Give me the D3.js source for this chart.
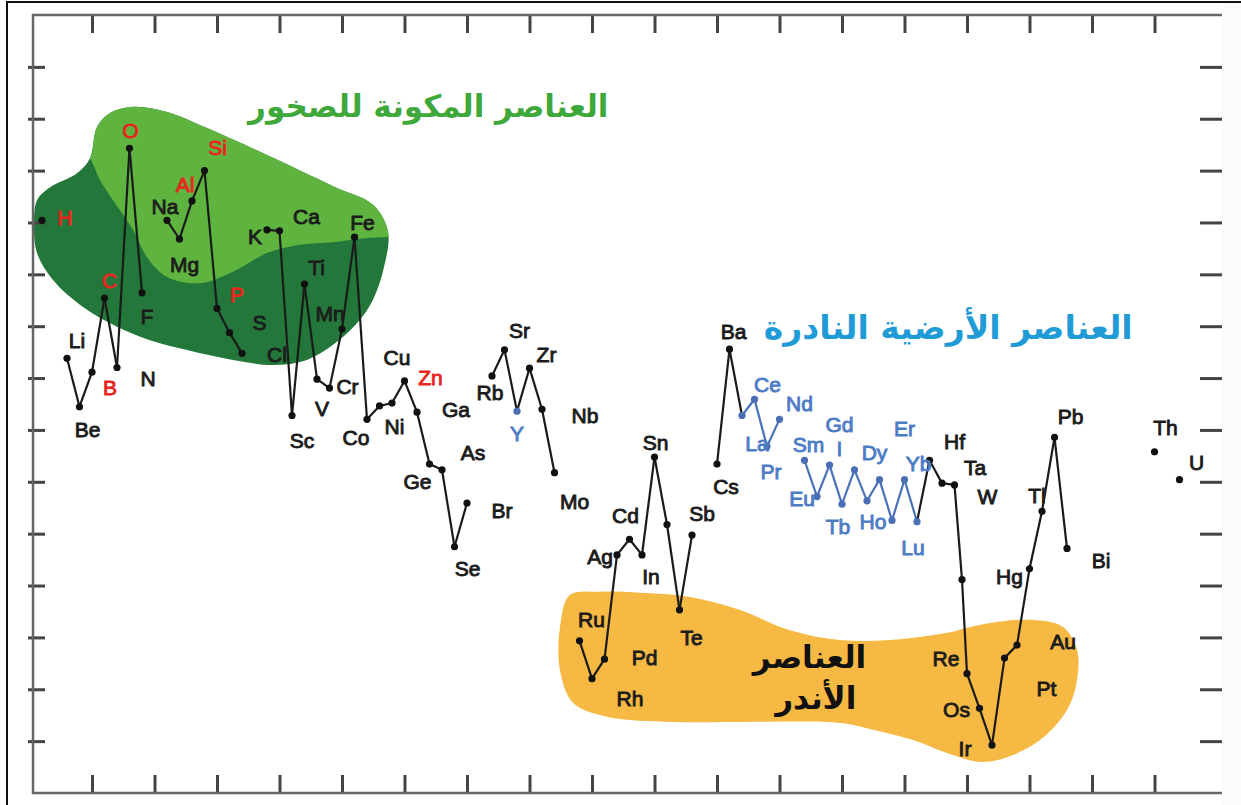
<!DOCTYPE html>
<html>
<head>
<meta charset="utf-8">
<script src="https://cdn.jsdelivr.net/npm/d3@7"></script>
<style>
  body { margin: 0; background: #fff; }
  svg { display: block; font-family: "Liberation Sans", Arial, sans-serif; }
</style>
</head>
<body>
<svg width="1241" height="805"></svg>
<script>
// element symbols, atomic numbers and crust abundance (atoms per 10^6 Si)
const symbols = ['H','Li','Be','B','C','N','O','F','Na','Mg','Al','Si','P','S','Cl','K','Ca','Sc','Ti','V','Cr','Mn','Fe','Co','Ni','Cu','Zn','Ga','Ge','As','Se','Br',
  'Rb','Sr','Y','Zr','Nb','Mo','Ru','Rh','Pd','Ag','Cd','In','Sn','Sb','Te','I','Cs','Ba','La','Ce','Pr','Nd','Sm','Eu','Gd','Tb','Dy','Ho','Er','Tm','Yb','Lu',
  'Hf','Ta','W','','Re','Os','Ir','Pt','Au','Hg','Tl','Pb','Bi','Th','U'];
const atomicNumbers = [1,3,4,5,6,7,8,9,11,12,13,14,15,16,17,19,20,21,22,23,24,25,26,27,28,29,30,31,32,33,34,35,
  37,38,39,40,41,42,44,45,46,47,48,49,50,51,52,53,55,56,57,58,59,60,62,63,64,65,66,67,68,69,70,71,
  72,73,74,74.6,75,76,77,78,79,80,81,82,83,90,92];
const abundance = [1.1e5,240,28,130,3500,160,2.7e6,4400,1.1e5,4.8e4,2.6e5,1e6,2200,750,300,7.2e4,6.9e4,19,6500,95,64,880,5.2e4,16,29,33,88,22,2.2,1.7,0.056,0.39,
  110,350,23,155,25,1.5,8.6e-4,1.6e-4,3.8e-4,0.039,0.078,0.039,3.0,0.15,3.4e-3,0.094,2.2,360,19,39,4.8,16,2.6,0.52,2.1,0.37,1.7,0.43,1.1,0.18,1.1,0.17,
  2.6,0.94,0.87,0.013,2.0e-4,4.3e-5,8.4e-6,4.0e-4,7.1e-4,0.021,0.27,7.2,0.052,3.8,1.1];

const rareEarths = ['La','Ce','Pr','Nd','Sm','Eu','Gd','Tb','Dy','Ho','Er','Tm','Yb','Lu'];
const redLabels = ['H','B','C','O','Al','Si','P','Zn'];
const blueLabels = ['Y','La','Ce','Pr','Nd','Sm','I*','Gd','Dy','Er','Yb','Eu','Tb','Ho','Lu'];

// tick values
const xTicks = d3.range(5, 91, 5);
const yTicks = d3.range(-5, 9).map(e => Math.pow(10, e));

// shaded regions, [atomic number, log10 abundance]
const rockOutline = [[0.6,5.43],[1.64,5.68],[3.8,5.95],[4.84,6.24],[5.4,6.84],[6.44,7.11],[8.28,7.23],[11.0,7.13],[14.2,6.82],[19.0,6.30],
  [24.28,5.70],[27.48,5.34],[28.68,4.82],[28.36,4.14],[27.48,3.51],[26.28,3.08],[24.28,2.64],[22.2,2.35],[19.48,2.25],[16.28,2.35],
  [12.6,2.54],[9.64,2.73],[7.0,2.99],[4.28,3.37],[1.88,3.89],[0.6,4.41],[0.36,4.95]];
const rockMajor = [[4.52,6.40],[5.24,7.46],[11.24,7.55],[20.84,6.59],[29.64,5.43],[29.64,4.74],[28.6,4.72],[27.0,4.70],[24.28,4.62],[21.64,4.57],
  [19.0,4.41],[16.28,4.05],[13.64,3.83],[11.0,3.95],[9.4,4.33],[8.28,4.86],[6.68,5.43],[5.64,5.82],[5.0,6.17]];
const rarestOutline = [[43.24,-2.18],[45.64,-2.12],[48.84,-2.14],[52.84,-2.22],[56.84,-2.47],[60.84,-2.86],[64.84,-3.05],[68.84,-3.05],[73.4,-2.91],
  [76.04,-2.76],[80.04,-2.66],[82.68,-2.80],[83.8,-3.24],[83.8,-3.82],[83.0,-4.40],[80.84,-4.98],[78.2,-5.31],[76.04,-5.40],[73.4,-5.23],
  [70.68,-4.98],[67.48,-4.78],[64.84,-4.65],[56.84,-4.63],[51.48,-4.63],[46.2,-4.53],[43.48,-4.26],[42.44,-3.63],[42.44,-2.80]];

// label placement: [text, element, dx, dy]
const labels = [['H','H',23,-3],['Li','Li',10,-18],['Be','Be',8,23],['B','B',18,15],['C','C',5,-17],['N','N',31,11],['O','O',1,-18],['F','F',5,24],
  ['Na','Na',-2,-14],['Mg','Mg',5,26],['Al','Al',-7,-16],['Si','Si',13,-23],['P','P',20,-14],['S','S',30,-10],['Cl','Cl',35,1],['K','K',-12,7],
  ['Ca','Ca',27,-14],['Sc','Sc',10,25],['Ti','Ti',12,-17],['V','V',5,29],['Cr','Cr',18,-2],['Mn','Mn',-12,-16],['Fe','Fe',8,-15],['Co','Co',-11,18],
  ['Ni','Ni',15,21],['Cu','Cu',5,-46],['Zn','Zn',26,-3],['Ga','Ga',39,-3],['Ge','Ge',-12,17],['As','As',31,-17],['Se','Se',13,22],['Br','Br',35,7],
  ['Rb','Rb',-2,17],['Sr','Sr',15,-19],['Y','Y',0,22],['Zr','Zr',17,-14],['Nb','Nb',43,6],['Mo','Mo',20,29],['Ru','Ru',12,-21],['Rh','Rh',38,20],
  ['Pd','Pd',40,-2],['Ag','Ag',-17,2],['Cd','Cd',-4,-24],['In','In',9,22],['Sn','Sn',1,-15],['Sb','Sb',35,-11],['Te','Te',12,28],['Cs','Cs',9,22],
  ['Ba','Ba',4,-18],['Ce','Ce',13,-15],['La','La',15,28],['Nd','Nd',20,-16],['Pr','Pr',4,25],['Sm','Sm',4,-16],['I*','Gd',10,-17],['Gd','Gd',10,-41],
  ['Dy','Dy',20,-17],['Er','Er',25,-51],['Yb','Yb',14,-16],['Eu','Eu',-15,2],['Tb','Tb',-4,22],['Ho','Ho',6,21],['Lu','Lu',-4,26],['Hf','Hf',25,-19],
  ['Ta','Ta',33,-16],['W','W',33,12],['Re','Re',-21,-15],['Os','Os',-23,1],['Ir','Ir',-27,3],['Pt','Pt',42,30],['Au','Au',46,-4],['Hg','Hg',-20,8],
  ['Tl','Tl',-5,-16],['Pb','Pb',16,-21],['Bi','Bi',34,12],['Th','Th',11,-24],['U','U',17,-17]];

const svg = d3.select('svg');
const frame = {left: 33, right: 1222, top: 15, bottom: 793};

const x = d3.scaleLinear().domain([5, 90]).range([92, 1154.5]);
const y = d3.scaleLog().domain([1e-6, 1e9]).range([frame.bottom, frame.top]);

const data = symbols.map((s, i) => ({sym: s, z: atomicNumbers[i], v: abundance[i]}));
const bySym = new Map(data.map(d => [d.sym, d]));

// outer border
svg.append('rect').attr('x', 7).attr('y', 2).attr('width', 1250).attr('height', 820)
  .attr('fill', '#fff').attr('stroke', '#111').attr('stroke-width', 2);
svg.append('rect').attr('x', frame.right).attr('y', 3).attr('width', 30).attr('height', 820).attr('fill', '#fbfbfb');

const g = svg.append('g');
const area = d3.line().x(d => x(d[0])).y(d => y(Math.pow(10, d[1]))).curve(d3.curveCatmullRomClosed.alpha(0.5));

svg.append('clipPath').attr('id', 'rockClip').append('path').attr('d', area(rockOutline));
g.append('path').attr('d', area(rockOutline)).attr('fill', '#24773a');
g.append('path').attr('d', area(rockMajor)).attr('fill', '#5fb440').attr('clip-path', 'url(#rockClip)');
g.append('path').attr('d', area(rarestOutline)).attr('fill', '#f5b944');

// axes (ticks only)
g.append('g').attr('transform', `translate(0,${frame.bottom})`)
  .call(d3.axisTop(x).tickValues(xTicks).tickSize(18).tickFormat(''))
  .call(a => a.select('.domain').remove());
g.append('g').attr('transform', `translate(0,${frame.top})`)
  .call(d3.axisBottom(x).tickValues(xTicks).tickSize(18).tickFormat(''))
  .call(a => a.select('.domain').remove());
g.append('g').attr('transform', `translate(${frame.left - 5},0)`)
  .call(d3.axisRight(y).tickValues(yTicks).tickSize(17).tickFormat(''))
  .call(a => a.select('.domain').remove());
g.append('g').attr('transform', `translate(${frame.right - 22},0)`)
  .call(d3.axisRight(y).tickValues(yTicks).tickSize(22).tickFormat(''))
  .call(a => a.select('.domain').remove());
g.selectAll('.tick line').attr('stroke', '#444').attr('stroke-width', 3);

g.append('path')
  .attr('d', `M${frame.right},${frame.top}H${frame.left}V${frame.bottom}H${frame.right}`)
  .attr('fill', 'none').attr('stroke', '#666').attr('stroke-width', 2.5);

// connecting lines between neighbouring elements
const isRee = d => rareEarths.includes(d.sym);
const segs = [];
for (let i = 1; i < data.length; i++) {
  const a = data[i - 1], b = data[i];
  if (b.z - a.z <= 1 && a.sym !== 'Th') segs.push({a, b, blue: isRee(a) && isRee(b)});
}
g.selectAll('.seg').data(segs).join('line')
  .attr('x1', d => x(d.a.z)).attr('y1', d => y(d.a.v))
  .attr('x2', d => x(d.b.z)).attr('y2', d => y(d.b.v))
  .attr('stroke', d => d.blue ? '#4a72b8' : '#1a1a1a')
  .attr('stroke-width', 2.2);

g.selectAll('.dot').data(data).join('circle')
  .attr('cx', d => x(d.z)).attr('cy', d => y(d.v)).attr('r', 3.6)
  .attr('fill', d => (isRee(d) || d.sym === 'Y') ? '#4a6fb5' : '#111');

// element labels
const labColor = t => redLabels.includes(t) ? '#e8261e' : blueLabels.includes(t) ? '#4d7cc6' : '#1c1c1c';
g.selectAll('.lab').data(labels).join('text')
  .attr('x', d => x(bySym.get(d[1]).z) + d[2])
  .attr('y', d => y(bySym.get(d[1]).v) + d[3])
  .attr('text-anchor', 'middle').attr('dominant-baseline', 'central')
  .attr('font-size', 21)
  .attr('fill', d => labColor(d[0]))
  .attr('stroke', d => labColor(d[0]))
  .attr('stroke-width', 0.9)
  .text(d => d[0].replace('*', ''));

// group titles
const titles = [
  {t: 'العناصر المكونة للصخور', z: 31.9, e: 7.25, c: '#3fa83a', s: 31},
  {t: 'العناصر الأرضية النادرة', z: 73.5, e: 2.97, c: '#1f9bd7', s: 33},
  {t: 'العناصر', z: 62.4, e: -3.38, c: '#111', s: 31},
  {t: 'الأندر', z: 62.9, e: -4.16, c: '#111', s: 31}
];
g.selectAll('.title').data(titles).join('text')
  .attr('x', d => x(d.z)).attr('y', d => y(Math.pow(10, d.e)))
  .attr('text-anchor', 'middle').attr('dominant-baseline', 'central')
  .attr('direction', 'rtl')
  .style('font-family', '"DejaVu Sans", sans-serif')
  .attr('font-weight', 'bold').attr('font-size', d => d.s)
  .attr('fill', d => d.c)
  .text(d => d.t);
</script>
</body>
</html>
